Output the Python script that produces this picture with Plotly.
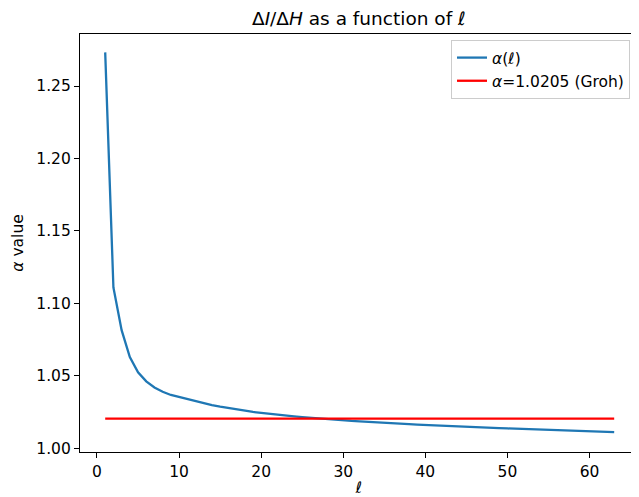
import plotly.graph_objects as go

ell = list(range(1, 64))
alpha = [1.2732, 1.1110, 1.0815, 1.0630, 1.0525, 1.0462, 1.0420, 1.0390, 1.0368,
         1.0354, 1.0338, 1.0323, 1.0310, 1.0298, 1.0287, 1.0277, 1.0268, 1.0259,
         1.0251, 1.0244, 1.0237, 1.0231, 1.0225, 1.0220, 1.0215, 1.0210, 1.0205,
         1.0201, 1.0197, 1.0193, 1.0189, 1.0186, 1.0182, 1.0179, 1.0176, 1.0173,
         1.0170, 1.0167, 1.0164, 1.0161, 1.0158, 1.0156, 1.0153, 1.0151, 1.0148,
         1.0146, 1.0144, 1.0141, 1.0139, 1.0137, 1.0135, 1.0133, 1.0131, 1.0129,
         1.0127, 1.0125, 1.0123, 1.0121, 1.0119, 1.0117, 1.0115, 1.0113, 1.0111]
groh_x = [1, 63]
groh_value = 1.0205

x_ticks = [0, 10, 20, 30, 40, 50, 60]
y_ticks = [1.00, 1.05, 1.10, 1.15, 1.20, 1.25]

FONT = "DejaVu Sans"
TICK = 15.5

fig = go.Figure()
fig.add_trace(go.Scatter(x=ell, y=alpha, mode="lines", name="<i>α</i>(<i>ℓ</i>)",
                         line=dict(color="#1f77b4", width=2.3)))
fig.add_trace(go.Scatter(x=groh_x, y=[groh_value] * len(groh_x), mode="lines",
                         name="<i>α</i>=1.0205 (Groh)",
                         line=dict(color="red", width=2.3)))

axis_common = dict(showline=True, linecolor="black", linewidth=1.2, mirror=True,
                   ticks="outside", ticklen=5, tickwidth=1.2, tickcolor="black",
                   showgrid=False, zeroline=False,
                   tickfont=dict(family=FONT, size=TICK, color="black"))

# the page adds an 8px body margin, so the figure is sized to fit the window
fig.update_layout(
    width=631, height=489,
    margin=dict(l=72, r=1, t=26, b=45),
    paper_bgcolor="white", plot_bgcolor="white",
    font=dict(family=FONT, color="black"),
    title=dict(text="Δ<i>I</i>/Δ<i>H</i> as a function of <i>ℓ</i>",
               x=0.556, xanchor="center", y=0.978, yanchor="middle",
               font=dict(family=FONT, size=18.5, color="black")),
    xaxis=dict(range=[-2.07, 65.9], tickvals=x_ticks,
               ticktext=[str(v) for v in x_ticks],
               title=dict(text="<i>ℓ</i>", font=dict(family=FONT, size=TICK), standoff=2),
               **axis_common),
    yaxis=dict(range=[0.99745, 1.2859], tickvals=y_ticks,
               ticktext=[f"{v:.2f}" for v in y_ticks],
               title=dict(text="<i>α</i> value", font=dict(family=FONT, size=TICK), standoff=8),
               **axis_common),
    legend=dict(x=0.9857, y=0.9856, xanchor="right", yanchor="top",
                bgcolor="rgba(255,255,255,0.8)", bordercolor="#cccccc", borderwidth=1,
                font=dict(family=FONT, size=TICK, color="black"),
                itemwidth=30, tracegroupgap=0),
    showlegend=True,
)

fig.write_html("out.html")
